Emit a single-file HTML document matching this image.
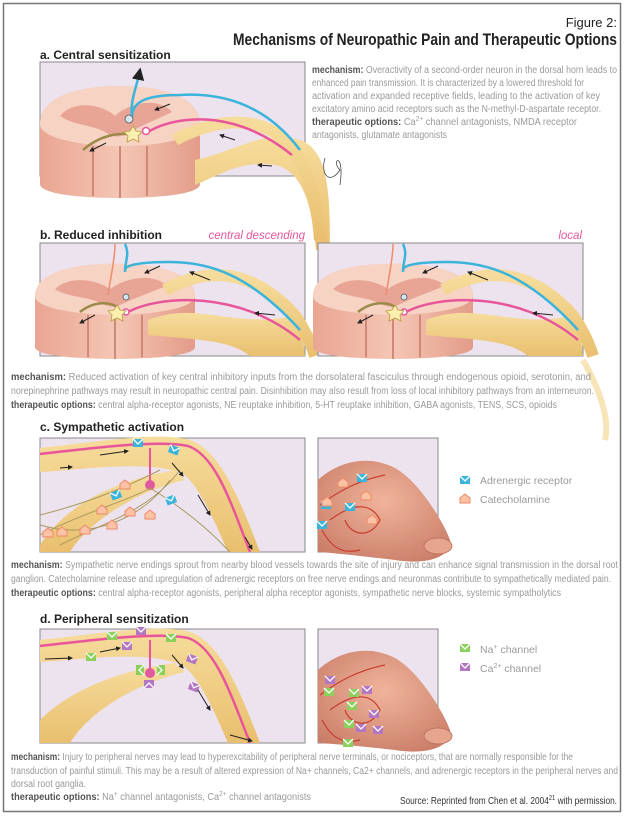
<!DOCTYPE html>
<html><head><meta charset="utf-8"><style>
html,body{margin:0;padding:0;background:#fff}
svg{display:block}
text{font-family:"Liberation Sans",sans-serif}
.b{font-weight:bold;fill:#555}
.g{fill:#9a9a9a}
</style></head><body>
<svg width="625" height="816" viewBox="0 0 625 816" xmlns="http://www.w3.org/2000/svg">
<defs>
<linearGradient id="tan" x1="0" y1="0" x2="0" y2="1"><stop offset="0" stop-color="#f6dc9c"/><stop offset="1" stop-color="#e9bf6e"/></linearGradient>
<linearGradient id="cord" x1="0" y1="0" x2="1" y2="0"><stop offset="0" stop-color="#e9a592"/><stop offset=".5" stop-color="#f5c6b4"/><stop offset="1" stop-color="#e39c89"/></linearGradient>
<radialGradient id="foot" cx=".5" cy=".4" r=".7"><stop offset="0" stop-color="#f0b49a"/><stop offset="1" stop-color="#c97c67"/></radialGradient>
<marker id="ar" markerWidth="5" markerHeight="5" refX="4" refY="2.5" orient="auto"><path d="M0,0L5,2.5L0,5z" fill="#222"/></marker>
<g id="spine">
 <path d="M-80,0 C-80,-28 -40,-38 0,-38 C40,-38 80,-28 80,0 L80,60 C80,70 40,74 0,74 C-40,74 -80,70 -80,60 Z" fill="url(#cord)"/>
 <path d="M-80,0 C-80,-28 -40,-38 0,-38 C40,-38 80,-28 80,0 C80,14 40,22 0,22 C-40,22 -80,14 -80,0Z" fill="#f7d3c4"/>
 <path d="M-60,-8 C-45,-26 -15,-18 -5,-8 C5,-18 35,-30 52,-12 C40,-6 25,0 10,8 C0,14 -5,14 -15,8 C-30,0 -45,2 -60,-8Z" fill="#e8a596"/>
 <path d="M-27,22 L-27,72 M0,22 L0,74 M27,22 L27,72" stroke="#d08878" stroke-width="2"/>
</g>
<g id="ar1"><rect x="-5" y="-4" width="10" height="8" fill="#3bb4dc"/><path d="M-5,-4 L0,1 L5,-4" stroke="#fff" stroke-width="1.3" fill="none"/></g>
<g id="na"><rect x="-5" y="-4" width="10" height="8" fill="#8bd05c"/><path d="M-5,-4 L0,1 L5,-4" stroke="#fff" stroke-width="1.3" fill="none"/></g>
<g id="ca"><rect x="-5" y="-4" width="10" height="8" fill="#b276c2"/><path d="M-5,-4 L0,1 L5,-4" stroke="#fff" stroke-width="1.3" fill="none"/></g>
<g id="cat"><path d="M-5,4 L-5,-1 L0,-5 L5,-1 L5,4Z" fill="#fbc3a6" stroke="#ee8866" stroke-width="1"/></g>
</defs>
<rect x="3.5" y="3.5" width="617" height="808" fill="#fff" stroke="#777" stroke-width="1.5"/>

<text x="617" y="27" text-anchor="end" font-size="13" fill="#222">Figure 2:</text>
<text x="617" y="45" text-anchor="end" font-size="16.5" font-weight="bold" fill="#222" textLength="384" lengthAdjust="spacingAndGlyphs">Mechanisms of Neuropathic Pain and Therapeutic Options</text>

<!-- a -->
<text x="40" y="59" font-size="12" font-weight="bold" fill="#222">a. Central sensitization</text>
<rect x="40" y="62" width="265" height="114" fill="#ede3ef" stroke="#888"/>
<use href="#spine" transform="translate(120,124)"/>
<path d="M195,160 C240,150 260,130 300,140 C330,150 330,200 330,250 L316,250 C312,200 300,170 275,165 C240,160 220,175 195,185Z" fill="url(#tan)"/>
<path d="M175,140 C230,110 280,120 300,160 C312,185 318,210 320,240" stroke="url(#tan)" stroke-width="12" fill="none"/>
<path d="M132,117 C132,100 150,95 180,95 C230,92 270,110 300,150" stroke="#3bb4dc" stroke-width="2.5" fill="none"/>
<path d="M132,117 C130,100 136,90 140,70" stroke="#3bb4dc" stroke-width="2.5" fill="none" marker-end="url(#ar)"/>
<path d="M148,132 C170,118 230,105 292,155" stroke="#e8559a" stroke-width="2.5" fill="none"/>
<path d="M83,150 C100,135 120,132 132,135" stroke="#9b8a4a" stroke-width="2.5" fill="none"/>
<circle cx="129" cy="119" r="4" fill="#d4e4f0" stroke="#555" stroke-width=".8"/>
<circle cx="146" cy="131" r="3.5" fill="#fff" stroke="#e8559a" stroke-width="1.5"/>
<path d="M133,126 l3,5 6,1 -4,4 1,6 -6,-3 -6,3 1,-6 -4,-4 6,-1z" fill="#fbf0b0" stroke="#b89a40" stroke-width=".8"/>
<path d="M106,143 L90,151" stroke="#222" marker-end="url(#ar)"/>
<path d="M170,104 L155,110" stroke="#222" marker-end="url(#ar)"/>
<path d="M235,140 L220,135" stroke="#222" marker-end="url(#ar)"/>
<path d="M272,166 L258,165" stroke="#222" marker-end="url(#ar)"/>
<path d="M325,158 C320,175 330,185 340,170 C330,160 345,150 340,185" stroke="#333" stroke-width=".7" fill="none"/>
<g font-size="10">
<text x="312" y="73" textLength="305" lengthAdjust="spacingAndGlyphs"><tspan class="b">mechanism:</tspan><tspan class="g"> Overactivity of a second-order neuron in the dorsal horn leads to</tspan></text>
<text x="312" y="86" class="g" textLength="272" lengthAdjust="spacingAndGlyphs">enhanced pain transmission. It is characterized by a lowered threshold for</text>
<text x="312" y="99" class="g" textLength="288" lengthAdjust="spacingAndGlyphs">activation and expanded receptive fields, leading to the activation of key</text>
<text x="312" y="112" class="g" textLength="289" lengthAdjust="spacingAndGlyphs">excitatory amino acid receptors such as the N-methyl-D-aspartate receptor.</text>
<text x="312" y="125" textLength="265" lengthAdjust="spacingAndGlyphs"><tspan class="b">therapeutic options:</tspan><tspan class="g"> Ca</tspan><tspan class="g" font-size="7" dy="-4">2+</tspan><tspan class="g" dy="4"> channel antagonists, NMDA receptor</tspan></text>
<text x="312" y="138" class="g" textLength="135" lengthAdjust="spacingAndGlyphs">antagonists, glutamate antagonists</text>
</g>

<!-- b -->
<text x="40" y="239" font-size="12" font-weight="bold" fill="#222">b. Reduced inhibition</text>
<text x="305" y="239" text-anchor="end" font-size="11.5" font-style="italic" fill="#e8559a">central descending</text>
<text x="582" y="239" text-anchor="end" font-size="11.5" font-style="italic" fill="#e8559a">local</text>
<g id="bpanel">
<rect x="40" y="243" width="265" height="113" fill="#ede3ef" stroke="#888"/>
<use href="#spine" transform="translate(115,296) scale(1,.85)"/>
<path d="M148,320 C200,300 230,330 300,315 L305,356 L250,356 C230,340 200,340 148,335Z" fill="url(#tan)"/>
<path d="M165,290 C220,260 260,280 290,310 C300,320 310,340 315,356" stroke="url(#tan)" stroke-width="12" fill="none"/>
<path d="M125,270 C125,265 140,262 170,262 C210,262 250,275 300,330" stroke="#3bb4dc" stroke-width="2.5" fill="none"/>
<path d="M125,272 C125,260 130,255 125,244" stroke="#3bb4dc" stroke-width="2.5" fill="none"/>
<path d="M115,244 C115,260 110,280 108,295" stroke="#f08a6a" stroke-width="1.5" fill="none"/>
<path d="M128,312 C160,295 240,290 300,340" stroke="#e8559a" stroke-width="2.5" fill="none"/>
<path d="M80,312 C95,300 112,302 118,308" stroke="#9b8a4a" stroke-width="2.5" fill="none"/>
<circle cx="126" cy="297" r="3" fill="#d4e4f0" stroke="#555" stroke-width=".8"/>
<circle cx="126" cy="312" r="3" fill="#fff" stroke="#e8559a" stroke-width="1.5"/>
<path d="M117,305 l3,5 6,1 -4,4 1,6 -6,-3 -6,3 1,-6 -4,-4 6,-1z" fill="#fbf0b0" stroke="#b89a40" stroke-width=".8"/>
<path d="M95,315 L80,323" stroke="#222" marker-end="url(#ar)"/>
<path d="M160,266 L145,273" stroke="#222" marker-end="url(#ar)"/>
<path d="M210,280 L190,272" stroke="#222" marker-end="url(#ar)"/>
<path d="M275,315 L255,313" stroke="#222" marker-end="url(#ar)"/>
</g>
<use href="#bpanel" transform="translate(278,0)"/>
<path d="M583,360 C600,390 610,420 605,440" stroke="#f3d898" stroke-width="6" fill="none" opacity=".7"/>
<g font-size="10">
<text x="11" y="380" textLength="580" lengthAdjust="spacingAndGlyphs"><tspan class="b">mechanism:</tspan><tspan class="g"> Reduced activation of key central inhibitory inputs from the dorsolateral fasciculus through endogenous opioid, serotonin, and</tspan></text>
<text x="11" y="394" class="g" textLength="583" lengthAdjust="spacingAndGlyphs">norepinephrine pathways may result in neuropathic central pain. Disinhibition may also result from loss of local inhibitory pathways from an interneuron.</text>
<text x="11" y="408" textLength="546" lengthAdjust="spacingAndGlyphs"><tspan class="b">therapeutic options:</tspan><tspan class="g"> central alpha-receptor agonists, NE reuptake inhibition, 5-HT reuptake inhibition, GABA agonists, TENS, SCS, opioids</tspan></text>
</g>

<!-- c -->
<text x="40" y="431" font-size="12" font-weight="bold" fill="#222">c. Sympathetic activation</text>
<rect x="40" y="438" width="265" height="114" fill="#ede3ef" stroke="#888"/>
<path d="M40,448 C110,440 160,432 190,440 C220,450 240,500 260,552 L228,552 C210,510 195,480 180,472 C140,460 80,470 40,472Z" fill="url(#tan)"/>
<path d="M40,545 C70,500 120,480 175,470 L185,480 C140,490 90,520 70,552 L40,552Z" fill="url(#tan)"/>
<path d="M40,454 C100,447 160,440 188,446 C215,455 230,500 250,552" stroke="#e8559a" stroke-width="2.5" fill="none"/>
<path d="M150,448 L150,482" stroke="#e8559a" stroke-width="2"/><circle cx="150" cy="485" r="5" fill="#e05aa0"/>
<g stroke="#a89a60" stroke-width="1" fill="none">
<path d="M40,535 C90,510 130,500 150,488"/><path d="M40,525 C90,540 140,520 170,480"/><path d="M60,545 C110,520 150,510 180,470"/><path d="M150,488 C170,500 200,520 230,552"/><path d="M40,515 C100,500 140,480 160,470"/>
</g>
<use href="#ar1" transform="translate(138,443)"/><use href="#ar1" transform="translate(174,450) rotate(20)"/><use href="#ar1" transform="translate(116,495) rotate(-20)"/><use href="#ar1" transform="translate(171,500) rotate(-20)"/>
<use href="#cat" transform="translate(125,485)"/><use href="#cat" transform="translate(102,510)"/><use href="#cat" transform="translate(130,512)"/><use href="#cat" transform="translate(150,515)"/><use href="#cat" transform="translate(85,530)"/><use href="#cat" transform="translate(62,532)"/><use href="#cat" transform="translate(48,533)"/><use href="#cat" transform="translate(112,525)"/>
<path d="M60,468 L72,467" stroke="#222" marker-end="url(#ar)"/><path d="M100,455 L128,451" stroke="#222" marker-end="url(#ar)"/><path d="M172,463 L183,476" stroke="#222" marker-end="url(#ar)"/><path d="M198,495 L210,515" stroke="#222" marker-end="url(#ar)"/><path d="M245,537 L252,549" stroke="#222" marker-end="url(#ar)"/>
<rect x="318" y="438" width="120" height="114" fill="#ede3ef" stroke="#888"/>
<path d="M318,480 C340,460 370,455 395,468 C420,482 445,525 450,540 C452,558 425,565 395,560 C360,556 335,553 318,552Z" fill="url(#foot)"/>
<ellipse cx="438" cy="546" rx="14" ry="8" fill="#e7a58e" stroke="#b76e5c" stroke-width=".8"/>
<g stroke="#c83c30" stroke-width="1.2" fill="none"><path d="M320,505 C340,490 360,480 385,475"/><path d="M330,520 C350,505 370,500 380,520 C370,540 350,535 345,520"/><path d="M322,530 C330,545 340,555 360,550"/></g>
<use href="#ar1" transform="translate(326,505)"/><use href="#ar1" transform="translate(362,478)"/><use href="#ar1" transform="translate(322,525)"/><use href="#ar1" transform="translate(350,507)"/>
<use href="#cat" transform="translate(343,483)"/><use href="#cat" transform="translate(366,496)"/><use href="#cat" transform="translate(372,520)"/><use href="#cat" transform="translate(327,502)"/>
<use href="#ar1" transform="translate(465,480)"/><text x="480" y="484" font-size="10.5" class="g">Adrenergic receptor</text>
<use href="#cat" transform="translate(465,499)"/><text x="480" y="503" font-size="10.5" class="g">Catecholamine</text>
<g font-size="10">
<text x="11" y="568" textLength="607" lengthAdjust="spacingAndGlyphs"><tspan class="b">mechanism:</tspan><tspan class="g"> Sympathetic nerve endings sprout from nearby blood vessels towards the site of injury and can enhance signal transmission in the dorsal root</tspan></text>
<text x="11" y="582" class="g" textLength="600" lengthAdjust="spacingAndGlyphs">ganglion. Catecholamine release and upregulation of adrenergic receptors on free nerve endings and neuronmas contribute to sympathetically mediated pain.</text>
<text x="11" y="596" textLength="550" lengthAdjust="spacingAndGlyphs"><tspan class="b">therapeutic options:</tspan><tspan class="g"> central alpha-receptor agonists, peripheral alpha receptor agonists, sympathetic nerve blocks, systemic sympatholytics</tspan></text>
</g>

<!-- d -->
<text x="40" y="623" font-size="12" font-weight="bold" fill="#222">d. Peripheral sensitization</text>
<rect x="40" y="629" width="265" height="114" fill="#ede3ef" stroke="#888"/>
<path d="M40,640 C110,632 160,624 190,632 C220,642 240,690 260,743 L228,743 C210,700 195,672 180,664 C140,650 80,660 40,662Z" fill="url(#tan)"/>
<path d="M40,720 C70,690 120,670 175,663 L185,672 C140,682 90,710 70,743 L40,743Z" fill="url(#tan)"/>
<path d="M40,646 C100,639 160,632 188,638 C215,647 230,692 250,743" stroke="#e8559a" stroke-width="2.5" fill="none"/>
<path d="M150,640 L150,670" stroke="#e8559a" stroke-width="2"/><circle cx="150" cy="673" r="5" fill="#e05aa0"/>
<use href="#na" transform="translate(112,636)"/><use href="#ca" transform="translate(141,631)"/><use href="#na" transform="translate(171,638)"/><use href="#ca" transform="translate(127,646)"/><use href="#na" transform="translate(91,657)"/><use href="#na" transform="translate(140,670) rotate(90)"/><use href="#na" transform="translate(161,670) rotate(-90)"/><use href="#ca" transform="translate(149,684) rotate(180)"/><use href="#ca" transform="translate(192,659) rotate(20)"/><use href="#ca" transform="translate(194,687) rotate(20)"/>
<path d="M45,659 L72,658" stroke="#222" marker-end="url(#ar)"/><path d="M100,652 L120,648" stroke="#222" marker-end="url(#ar)"/><path d="M172,655 L183,668" stroke="#222" marker-end="url(#ar)"/><path d="M198,690 L210,710" stroke="#222" marker-end="url(#ar)"/><path d="M230,735 L252,741" stroke="#222" marker-end="url(#ar)"/>
<rect x="318" y="629" width="120" height="114" fill="#ede3ef" stroke="#888"/>
<path d="M318,670 C340,650 370,645 395,658 C420,672 445,715 450,730 C452,748 425,755 395,750 C360,746 335,744 318,743Z" fill="url(#foot)"/>
<ellipse cx="438" cy="736" rx="14" ry="8" fill="#e7a58e" stroke="#b76e5c" stroke-width=".8"/>
<g stroke="#c83c30" stroke-width="1.2" fill="none"><path d="M320,695 C340,680 360,670 385,665"/><path d="M330,710 C350,695 370,690 380,710 C370,730 350,725 345,710"/><path d="M322,720 C330,735 340,745 360,740"/></g>
<use href="#ca" transform="translate(330,680)"/><use href="#na" transform="translate(329,692)"/><use href="#na" transform="translate(352,706)"/><use href="#na" transform="translate(354,693)"/><use href="#ca" transform="translate(367,690)"/><use href="#ca" transform="translate(374,714)"/><use href="#na" transform="translate(349,724)"/><use href="#ca" transform="translate(361,728)"/><use href="#na" transform="translate(348,743)"/><use href="#ca" transform="translate(378,730)"/>
<use href="#na" transform="translate(465,648)"/><text x="480" y="653" font-size="10.5" class="g">Na<tspan font-size="7" dy="-4">+</tspan><tspan dy="4"> channel</tspan></text>
<use href="#ca" transform="translate(465,667)"/><text x="480" y="672" font-size="10.5" class="g">Ca<tspan font-size="7" dy="-4">2+</tspan><tspan dy="4"> channel</tspan></text>
<g font-size="10">
<text x="11" y="760" textLength="562" lengthAdjust="spacingAndGlyphs"><tspan class="b">mechanism:</tspan><tspan class="g"> Injury to peripheral nerves may lead to hyperexcitability of peripheral nerve terminals, or nociceptors, that are normally responsible for the</tspan></text>
<text x="11" y="774" class="g" textLength="607" lengthAdjust="spacingAndGlyphs">transduction of painful stimuli. This may be a result of altered expression of Na+ channels, Ca2+ channels, and adrenergic receptors in the peripheral nerves and</text>
<text x="11" y="787" class="g" textLength="75" lengthAdjust="spacingAndGlyphs">dorsal root ganglia.</text>
<text x="11" y="800" textLength="300" lengthAdjust="spacingAndGlyphs"><tspan class="b">therapeutic options:</tspan><tspan class="g"> Na</tspan><tspan class="g" font-size="7" dy="-4">+</tspan><tspan class="g" dy="4"> channel antagonists, Ca</tspan><tspan class="g" font-size="7" dy="-4">2+</tspan><tspan class="g" dy="4"> channel antagonists</tspan></text>
<text x="617" y="804" text-anchor="end" fill="#333" textLength="217" lengthAdjust="spacingAndGlyphs">Source: Reprinted from Chen et al. 2004<tspan font-size="7" dy="-4">21</tspan><tspan dy="4"> with permission.</tspan></text>
</g>
</svg>
</body></html>
